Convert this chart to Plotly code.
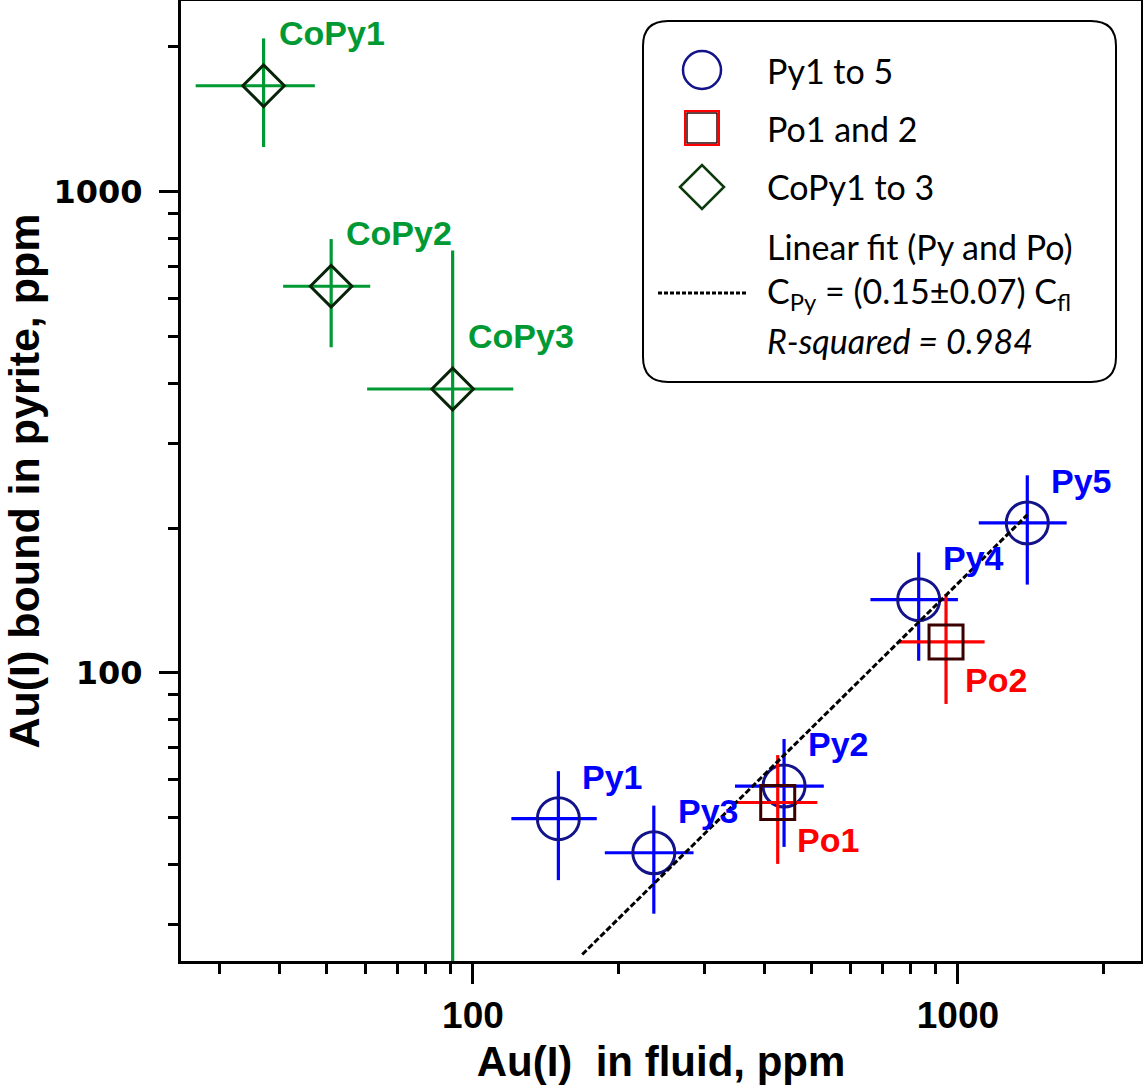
import math
import plotly.graph_objects as go

# Au(I) in fluid vs Au(I) bound in pyrite, ppm
py_names = ["Py1", "Py2", "Py3", "Py4", "Py5"]
py_fluid = [150, 438, 236, 830, 1390]
py_fluid_err = [30, 91, 49, 170, 286]
py_bound = [49.8, 58.2, 42.3, 142, 205]
py_bound_err = [12.7, 14.7, 10.7, 36, 52.4]

po_names = ["Po1", "Po2"]
po_fluid = [425, 945]
po_fluid_err = [88, 190]
po_bound = [53.8, 116]
po_bound_err = [13.7, 29.8]

copy_names = ["CoPy1", "CoPy2", "CoPy3"]
copy_fluid = [37, 51, 90.8]
copy_fluid_err = [10.2, 10.4, 30.3]
copy_bound = [1660, 636, 389]
copy_bound_err = [422, 161, 366]

# linear fit through Py and Po
fit_fluid = [168, 1390]
fit_bound = [26, 213]

x_range = [25, 2385]
y_range = [25.2, 2490]
major_ticks = [100, 1000]
major_text = ["100", "1000"]
minor_ticks = [30, 40, 50, 60, 70, 80, 90, 200, 300, 400, 500, 600, 700, 800, 900, 2000]

legend_lines = [
    "Py1 to 5",
    "Po1 and 2",
    "CoPy1 to 3",
    "Linear fit (Py and Po)",
    "C<sub>Py</sub> = (0.15±0.07) C<sub>fl</sub>",
    "<i>R-squared = 0.984</i>",
]

BLUE = "#0000FF"
RED = "#FF0000"
GREEN = "#009933"

W, H = 1143, 1088
L, R, T, B = 181, 2, 1, 127
PW = W - L - R
PH = H - T - B


def px(x):
    return (x - L) / PW


def py(y):
    return (T + PH - y) / PH


def lg(v):
    return math.log10(v)


fig = go.Figure()


def add_group(xs, xe, ys, ye, color, symbol, size, edge):
    fig.add_trace(go.Scatter(
        x=xs, y=ys, mode="markers",
        marker=dict(symbol=symbol, size=size, color="rgba(0,0,0,0)",
                    line=dict(color=edge, width=3)),
        error_x=dict(type="data", array=xe, color=color, thickness=3.2, width=0),
        error_y=dict(type="data", array=ye, color=color, thickness=3.2, width=0),
        showlegend=False, hoverinfo="skip",
    ))


add_group(copy_fluid, copy_fluid_err, copy_bound, copy_bound_err, GREEN, "diamond", 32, "#082408")
add_group(py_fluid, py_fluid_err, py_bound, py_bound_err, BLUE, "circle", 42, "#12128a")
add_group(po_fluid, po_fluid_err, po_bound, po_bound_err, RED, "square", 34, "#3a0000")

fig.add_trace(go.Scatter(
    x=fit_fluid, y=fit_bound, mode="lines",
    line=dict(color="black", width=3, dash="6px,2.5px"),
    showlegend=False, hoverinfo="skip",
))

# point labels
label_font = dict(family="Liberation Sans, Arial", size=34, color="black", weight="bold")
groups = [
    (py_names, py_fluid, py_bound, BLUE, 22, 42),
    (po_names, po_fluid, po_bound, RED, 17, -38),
    (copy_names, copy_fluid, copy_bound, GREEN, 13, 53),
]
for names, xs, ys, color, dx, dy in groups:
    for n, xv, yv in zip(names, xs, ys):
        fig.add_annotation(
            x=lg(xv), y=lg(yv), text=n, showarrow=False,
            xanchor="left", yanchor="middle", xshift=dx, yshift=dy,
            font=dict(label_font, color=color),
        )

# legend box with rounded corners
bx0, by0, bx1, by1, rr = 643, 21, 1116, 382, 25
pts = [
    ("M", bx0 + rr, by0), ("L", bx1 - rr, by0), ("Q", bx1, by0, bx1, by0 + rr),
    ("L", bx1, by1 - rr), ("Q", bx1, by1, bx1 - rr, by1), ("L", bx0 + rr, by1),
    ("Q", bx0, by1, bx0, by1 - rr), ("L", bx0, by0 + rr), ("Q", bx0, by0, bx0 + rr, by0),
]
path = ""
for p in pts:
    cmd, coords = p[0], p[1:]
    pairs = [f"{px(coords[i]):.5f},{py(coords[i + 1]):.5f}" for i in range(0, len(coords), 2)]
    path += cmd + " ".join(pairs) + " "
path += "Z"
fig.add_shape(type="path", path=path, xref="paper", yref="paper",
              line=dict(color="black", width=2), fillcolor="white")

mx = 702
fig.add_shape(type="circle", xref="paper", yref="paper",
              x0=px(mx - 19), x1=px(mx + 19), y0=py(70 + 19), y1=py(70 - 19),
              line=dict(color="#12128a", width=2.5))
fig.add_shape(type="rect", xref="paper", yref="paper",
              x0=px(mx - 17), x1=px(mx + 17), y0=py(128 + 17), y1=py(128 - 17),
              line=dict(color=RED, width=2))
fig.add_shape(type="rect", xref="paper", yref="paper",
              x0=px(mx - 15), x1=px(mx + 15), y0=py(128 + 15), y1=py(128 - 15),
              line=dict(color="#3a0000", width=1.5))
dpath = (f"M{px(mx - 22):.5f},{py(187):.5f} L{px(mx):.5f},{py(165):.5f} "
         f"L{px(mx + 22):.5f},{py(187):.5f} L{px(mx):.5f},{py(209):.5f} Z")
fig.add_shape(type="path", path=dpath, xref="paper", yref="paper",
              line=dict(color="#0b3a0b", width=2.5))
fig.add_shape(type="line", xref="paper", yref="paper",
              x0=px(658), x1=px(747), y0=py(293), y1=py(293),
              line=dict(color="black", width=3, dash="4px,2px"))

legend_y = [70, 128, 187, 247, 293, 340]
for txt, yy in zip(legend_lines, legend_y):
    fig.add_annotation(
        x=px(765), y=py(yy), xref="paper", yref="paper", text=txt,
        showarrow=False, xanchor="left", yanchor="middle",
        font=dict(family="Lato, Open Sans", size=34, color="black"),
    )

axis_common = dict(
    type="log", showline=True, linewidth=3, linecolor="black", mirror=True,
    showgrid=False, zeroline=False, ticks="outside", tickwidth=2.5, tickcolor="black",
    tickmode="array", tickvals=major_ticks, ticktext=major_text, automargin=False,
    minor=dict(tickmode="array", tickvals=minor_ticks, ticks="outside", ticklen=10,
               tickwidth=2.5, tickcolor="black", showgrid=False),
)

fig.update_layout(
    width=W, height=H,
    margin=dict(l=L, r=R, t=T, b=B),
    paper_bgcolor="white", plot_bgcolor="white",
    xaxis=dict(
        axis_common, range=[lg(x_range[0]), lg(x_range[1])], ticklen=20,
        tickfont=dict(family="Liberation Sans, Arial", size=37, color="black", weight="bold"),
        title=dict(text="Au(I)\u00a0\u00a0in fluid, ppm", standoff=12,
                   font=dict(family="Liberation Sans, Arial", size=42, color="black", weight="bold")),
    ),
    yaxis=dict(
        axis_common, range=[lg(y_range[0]), lg(y_range[1])], ticklen=19,
        ticklabelstandoff=10,
        tickfont=dict(family="DejaVu Sans", size=32, color="black", weight="bold"),
        title=dict(text="Au(I) bound in pyrite, ppm", standoff=10,
                   font=dict(family="Liberation Sans, Arial", size=43, color="black", weight="bold")),
    ),
)

fig.write_html("out.html", config={"displayModeBar": False},
               post_script="document.body.style.margin='0';")
